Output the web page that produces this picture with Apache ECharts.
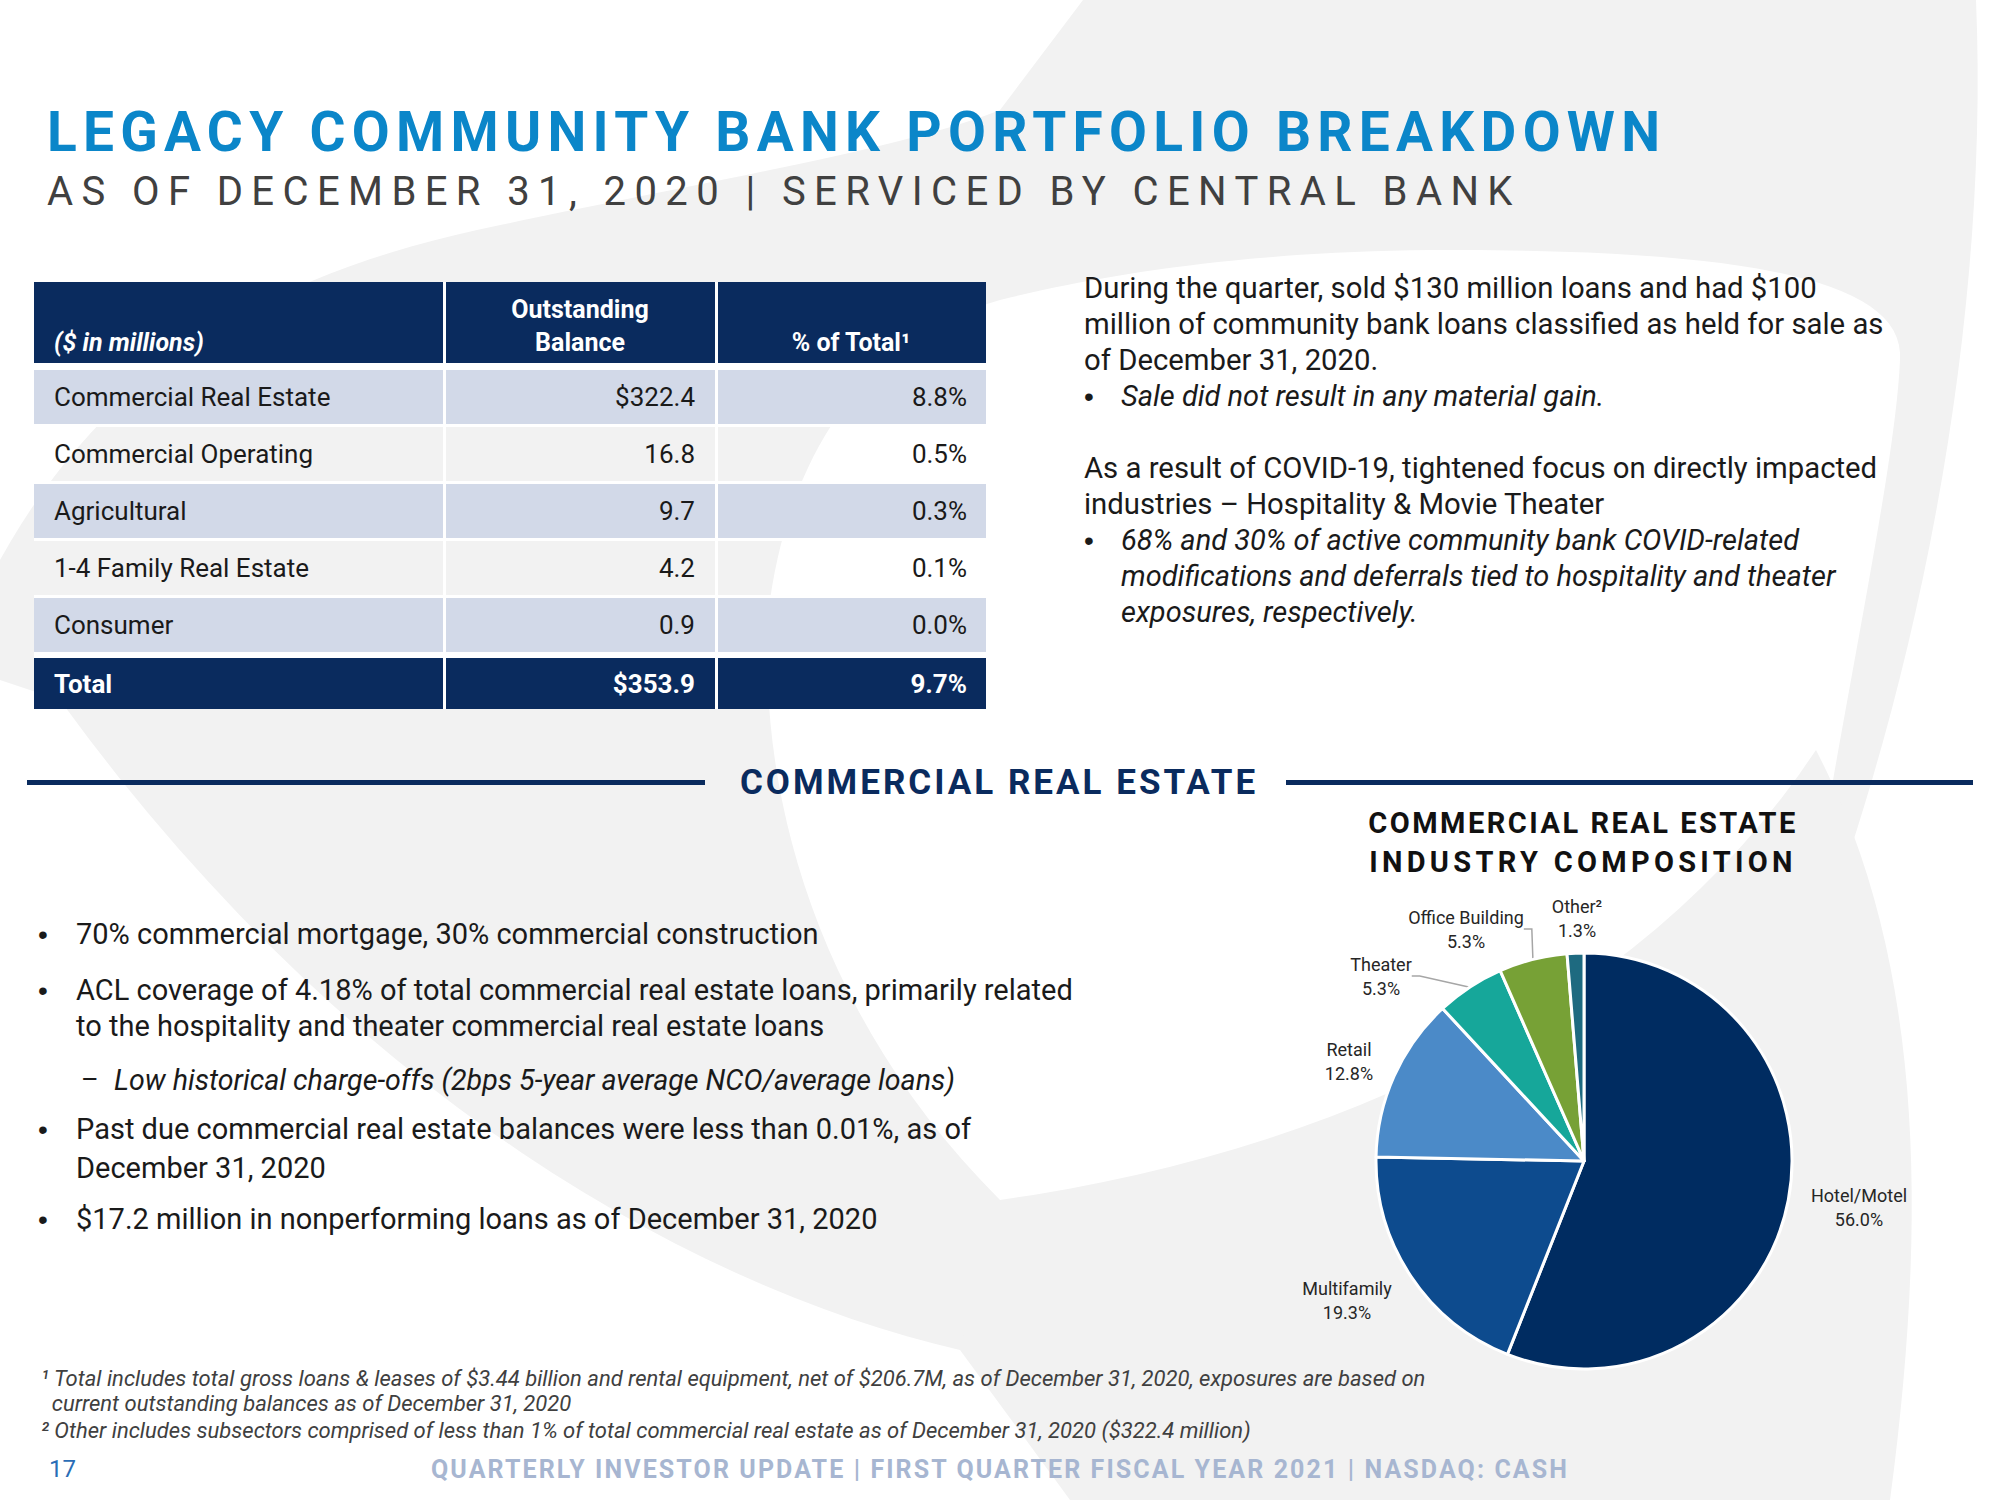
<!DOCTYPE html>
<html>
<head>
<meta charset="utf-8">
<title>Legacy Community Bank Portfolio Breakdown</title>
<script src="https://cdn.jsdelivr.net/npm/echarts@6/dist/echarts.min.js"></script>
<style>
  html, body { margin: 0; padding: 0; background: #ffffff; }
  #chart { width: 2000px; height: 1500px; }
  #chart text[style*="lsTitle"] { letter-spacing: 6.3px; }
  #chart text[style*="lsSub"]   { letter-spacing: 8.4px; }
  #chart text[style*="lsSec"]   { letter-spacing: 3px; }
  #chart text[style*="lsPieA"]  { letter-spacing: 2.5px; }
  #chart text[style*="lsPieB"]  { letter-spacing: 4.3px; }
  #chart text[style*="lsFoot"]  { letter-spacing: 2.1px; }
</style>
</head>
<body>
<div id="chart"></div>
<script>
// ---------------- data ----------------
const tableCategories = ['Commercial Real Estate', 'Commercial Operating', 'Agricultural', '1-4 Family Real Estate', 'Consumer'];
const outstandingBalance = [322.4, 16.8, 9.7, 4.2, 0.9];
const percentOfTotal = [8.8, 0.5, 0.3, 0.1, 0.0];
const totalBalance = 353.9;
const totalPercent = 9.7;

const pieCategories = ['Hotel/Motel', 'Multifamily', 'Retail', 'Theater', 'Office Building', 'Other\u00b2'];
const pieValues = [56.0, 19.3, 12.8, 5.3, 5.3, 1.3];

const quarterNotes = [
  'During the quarter, sold $130 million loans and had $100',
  'million of community bank loans classified as held for sale as',
  'of December 31, 2020.'
];
const quarterBullet = ['Sale did not result in any material gain.'];
const covidNotes = [
  'As a result of COVID-19, tightened focus on directly impacted',
  'industries \u2013 Hospitality & Movie Theater'
];
const covidBullet = [
  '68% and 30% of active community bank COVID-related',
  'modifications and deferrals tied to hospitality and theater',
  'exposures, respectively.'
];
const creBullets = [
  ['\u2022', '70% commercial mortgage, 30% commercial construction'],
  ['\u2022', 'ACL coverage of 4.18% of total commercial real estate loans, primarily related'],
  ['', 'to the hospitality and theater commercial real estate loans'],
  ['\u2013', 'Low historical charge-offs (2bps 5-year average NCO/average loans)'],
  ['\u2022', 'Past due commercial real estate balances were less than 0.01%, as of'],
  ['', 'December 31, 2020'],
  ['\u2022', '$17.2 million in nonperforming loans as of December 31, 2020']
];
const footnotes = [
  '\u00b9 Total includes total gross loans & leases of $3.44 billion and rental equipment, net of $206.7M, as of December 31, 2020, exposures are based on',
  '  current outstanding balances as of December 31, 2020',
  '\u00b2 Other includes subsectors comprised of less than 1% of total commercial real estate as of December 31, 2020 ($322.4 million)'
];

// ---------------- layout / style ----------------
const NAVY = '#0a2b5e';
const BASE = 'Roboto';
const BULLET_FONT = '"Liberation Sans", Arial';
const PIE_CENTER = [1584, 1161];
const PIE_R = 208;
const pieColors = ['#002c61', '#0d4b8e', '#4b8ac8', '#16a79a', '#77a136', '#1e6a80'];
const leaderIdx = [3, 4];
const labelOffsets = [[275, 46], [-237, 139], [-235, -100], [-203, -185], [-118, -232], [-7, -243]];
const colX = [34, 444, 716, 986];
const creY = [934, 990, 1026, 1080, 1129, 1168, 1219];
const bgPaths = [
  'M 1083 0 L 1976 0 C 1990 330 1915 700 1800 990 C 1830 760 1895 480 1900 360 C 1905 280 1750 250 1450 250 C 1250 250 1100 275 1000 300 C 860 340 790 460 770 600 C 755 760 800 1000 1000 1200 L 1010 1320 L 960 1350 C 700 1290 350 1100 60 700 L 0 680 L 0 560 C 100 380 250 280 477 230 C 700 182 900 150 1000 110 Z',
  'M 1816 750 C 1920 950 1930 1200 1890 1500 L 1070 1500 L 960 1350 L 1000 1200 C 1350 1150 1650 1000 1816 750 Z'
];

function samplePath(d) {
  const tok = d.trim().split(/[\s,]+/);
  const pts = [];
  let i = 0, cx = 0, cy = 0, cmd = '';
  while (i < tok.length) {
    if (/^[MLCZ]$/.test(tok[i])) cmd = tok[i++];
    if (cmd === 'Z') break;
    if (cmd === 'M' || cmd === 'L') {
      cx = +tok[i++]; cy = +tok[i++]; pts.push([cx, cy]);
    } else if (cmd === 'C') {
      const x1 = +tok[i++], y1 = +tok[i++], x2 = +tok[i++], y2 = +tok[i++], x3 = +tok[i++], y3 = +tok[i++];
      for (let k = 1; k <= 30; k++) {
        const t = k / 30, u = 1 - t;
        pts.push([u*u*u*cx + 3*u*u*t*x1 + 3*u*t*t*x2 + t*t*t*x3,
                  u*u*u*cy + 3*u*u*t*y1 + 3*u*t*t*y2 + t*t*t*y3]);
      }
      cx = x3; cy = y3;
    } else { i++; }
  }
  return pts;
}

const els = [];
function addText(x, y, text, o) {
  o = o || {};
  const align = o.align || 'left';
  els.push({
    type: 'text', x: x, y: y, z: 5, silent: true,
    style: {
      text: text,
      fill: o.fill || '#1a1a1a',
      fontSize: o.size || 28,
      fontFamily: o.family || BASE,
      fontWeight: o.weight || 'normal',
      fontStyle: o.italic ? 'italic' : 'normal',
      align: align, textAlign: align,
      verticalAlign: 'middle', textVerticalAlign: 'middle'
    }
  });
}
function addRect(x, y, w, h, fill, z) {
  els.push({ type: 'rect', z: z == null ? 3 : z, silent: true,
    shape: { x: x, y: y, width: w, height: h }, style: { fill: fill } });
}

// background swoosh
bgPaths.forEach(function (d) {
  els.push({ type: 'polygon', z: 0, silent: true, shape: { points: samplePath(d) }, style: { fill: '#f2f2f2' } });
});

// title
addText(47, 132, 'LEGACY COMMUNITY BANK PORTFOLIO BREAKDOWN', { size: 55, weight: 'bold', fill: '#0b86c9', family: BASE + ', lsTitle' });
addText(47, 191, 'AS OF DECEMBER 31, 2020 | SERVICED BY CENTRAL BANK', { size: 40, fill: '#404040', family: BASE + ', lsSub' });

// table
function cellRow(top, h, fill) {
  for (let c = 0; c < 3; c++) addRect(colX[c], top, colX[c + 1] - colX[c], h, fill, 2);
}
const headTop = 282, headH = 81;
cellRow(headTop, headH, NAVY);
const rowTops = tableCategories.map(function (_, i) { return 370 + i * 57; });
const rowH = 54;
rowTops.forEach(function (t, i) { if (i % 2 === 0) cellRow(t, rowH, '#d2d9e8'); });
const totalTop = 658, totalH = 51;
cellRow(totalTop, totalH, NAVY);
// white grid
addRect(colX[1] - 1, headTop, 3, totalTop + totalH - headTop, '#ffffff', 4);
addRect(colX[2] - 1, headTop, 3, totalTop + totalH - headTop, '#ffffff', 4);
const gaps = [[headTop + headH, rowTops[0]]];
for (let i = 0; i < rowTops.length - 1; i++) gaps.push([rowTops[i] + rowH, rowTops[i + 1]]);
gaps.push([rowTops[rowTops.length - 1] + rowH, totalTop]);
gaps.forEach(function (g) { addRect(colX[0], g[0], colX[3] - colX[0], g[1] - g[0], '#ffffff', 4); });

addText(54, 342, '($ in millions)', { size: 25, fill: '#ffffff', italic: true, weight: 'bold' });
addText(580, 309, 'Outstanding', { size: 25, fill: '#ffffff', weight: 'bold', align: 'center' });
addText(580, 342, 'Balance', { size: 25, fill: '#ffffff', weight: 'bold', align: 'center' });
addText(851, 342, '% of Total\u00b9', { size: 25, fill: '#ffffff', weight: 'bold', align: 'center' });
tableCategories.forEach(function (name, i) {
  const y = rowTops[i] + rowH / 2;
  addText(54, y, name, { size: 26 });
  addText(695, y, (i === 0 ? '$' : '') + outstandingBalance[i].toFixed(1), { size: 26, align: 'right' });
  addText(967, y, percentOfTotal[i].toFixed(1) + '%', { size: 26, align: 'right' });
});
addText(54, totalTop + totalH / 2, 'Total', { size: 26, fill: '#ffffff', weight: 'bold' });
addText(695, totalTop + totalH / 2, '$' + totalBalance.toFixed(1), { size: 26, fill: '#ffffff', weight: 'bold', align: 'right' });
addText(967, totalTop + totalH / 2, totalPercent.toFixed(1) + '%', { size: 26, fill: '#ffffff', weight: 'bold', align: 'right' });

// right notes
let ly = 288;
quarterNotes.forEach(function (t) { addText(1084, ly, t, { size: 29.3 }); ly += 36; });
quarterBullet.forEach(function (t, k) { if (k === 0) addText(1084, ly, '\u2022', { size: 28, family: BULLET_FONT }); addText(1121, ly, t, { size: 29, italic: true }); ly += 36; });
ly += 36;
covidNotes.forEach(function (t) { addText(1084, ly, t, { size: 29.3 }); ly += 36; });
covidBullet.forEach(function (t, k) { if (k === 0) addText(1084, ly, '\u2022', { size: 28, family: BULLET_FONT }); addText(1121, ly, t, { size: 29, italic: true }); ly += 36; });

// section header
addRect(27, 780, 678, 5, NAVY, 3);
addRect(1286, 780, 687, 5, NAVY, 3);
addText(999, 782, 'COMMERCIAL REAL ESTATE', { size: 35, weight: 'bold', fill: NAVY, align: 'center', family: BASE + ', lsSec' });

// pie title
addText(1583, 823, 'COMMERCIAL REAL ESTATE', { size: 29, weight: 'bold', fill: '#111111', align: 'center', family: BASE + ', lsPieA' });
addText(1583, 862, 'INDUSTRY COMPOSITION', { size: 29, weight: 'bold', fill: '#111111', align: 'center', family: BASE + ', lsPieB' });

// CRE bullets
creBullets.forEach(function (b, i) {
  const sub = b[0] === '\u2013';
  if (b[0]) addText(sub ? 81 : 38, creY[i], b[0], sub ? { size: 27 } : { size: 28, family: BULLET_FONT });
  addText(sub ? 114 : 76, creY[i], b[1], { size: sub ? 28.6 : 29, italic: sub });
});

// footnotes
[1378, 1403, 1430].forEach(function (y, i) {
  addText(41, y, footnotes[i], { size: 22, italic: true, fill: '#404040' });
});

// footer
addText(49, 1469, '17', { size: 24, fill: '#2a6db6' });
addText(431, 1469, 'QUARTERLY INVESTOR UPDATE | FIRST QUARTER FISCAL YEAR 2021 | NASDAQ: CASH', { size: 25, weight: 'bold', fill: '#a7b6d1', family: BASE + ', lsFoot' });

// ---------------- chart ----------------
const chart = echarts.init(document.getElementById('chart'), null, { renderer: 'svg', width: 2000, height: 1500 });
chart.setOption({
  backgroundColor: '#ffffff',
  animation: false,
  graphic: { elements: els },
  series: [{
    type: 'pie',
    z: 10,
    center: PIE_CENTER,
    radius: PIE_R,
    startAngle: 90,
    clockwise: true,
    avoidLabelOverlap: false,
    emphasis: { scale: false },
    itemStyle: { borderColor: '#ffffff', borderWidth: 3 },
    label: {
      show: true, position: 'outside',
      formatter: function (p) { return p.name + '\n' + p.value.toFixed(1) + '%'; },
      color: '#262626', fontSize: 18, lineHeight: 24, fontFamily: BASE, align: 'center'
    },
    labelLine: { show: false, length: 6, length2: 8, lineStyle: { color: '#a6a6a6', width: 1.5 } },
    labelLayout: function (p) {
      const o = labelOffsets[p.dataIndex];
      return { x: PIE_CENTER[0] + o[0], y: PIE_CENTER[1] + o[1], align: 'center', verticalAlign: 'middle' };
    },
    data: pieCategories.map(function (n, i) {
      const item = { name: n, value: pieValues[i], itemStyle: { color: pieColors[i] } };
      if (leaderIdx.indexOf(i) >= 0) item.labelLine = { show: true, length: 6, length2: 8, lineStyle: { color: '#a6a6a6', width: 1.5 } };
      return item;
    })
  }]
});
</script>
</body>
</html>
